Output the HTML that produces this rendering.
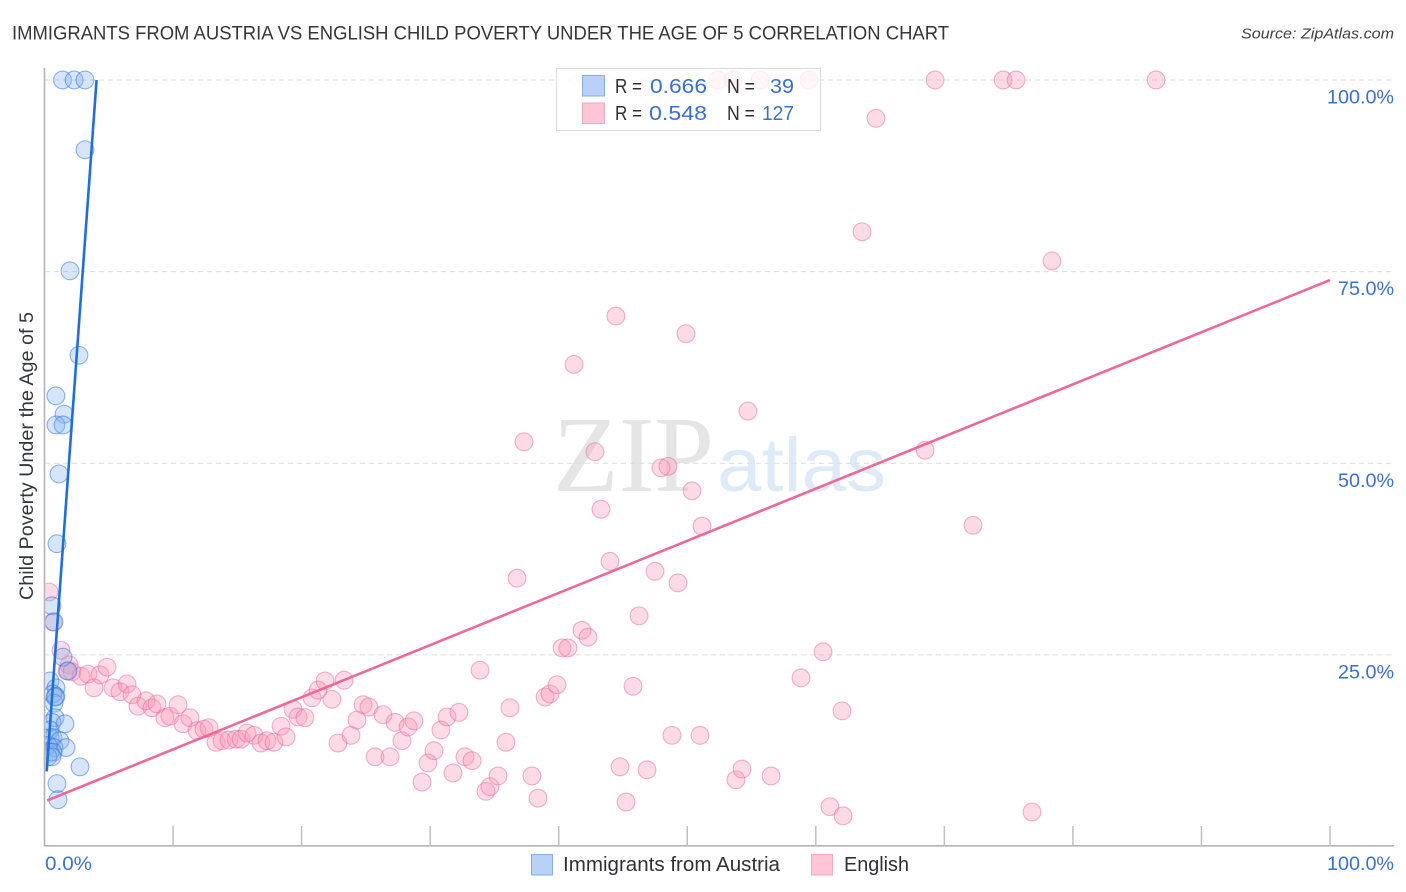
<!DOCTYPE html>
<html lang="en">
<head>
<meta charset="utf-8">
<title>Immigrants from Austria vs English Child Poverty Correlation Chart</title>
<style>
html,body{margin:0;padding:0;background:#fff;width:1406px;height:892px;overflow:hidden}
svg{display:block}
text{font-family:"Liberation Sans",sans-serif}
</style>
</head>
<body>
<svg id="chart" xmlns="http://www.w3.org/2000/svg" width="1406" height="892" viewBox="0 0 1406 892">
  <defs>
    <clipPath id="plot-clip"><rect x="45.5" y="60" width="1355" height="786"/></clipPath>
  </defs>
  <rect x="0" y="0" width="1406" height="892" fill="#fff"/>
  <text x="12" y="39.5" font-size="19.5" fill="#33373d" textLength="937" lengthAdjust="spacingAndGlyphs">IMMIGRANTS FROM AUSTRIA VS ENGLISH CHILD POVERTY UNDER THE AGE OF 5 CORRELATION CHART</text>
  <text x="1394" y="38.5" font-size="15" font-style="italic" fill="#3d4248" text-anchor="end" textLength="153" lengthAdjust="spacingAndGlyphs">Source: ZipAtlas.com</text>

  <g>
    <text x="553" y="491" font-size="108" fill="#e5e5e5" textLength="161" lengthAdjust="spacingAndGlyphs" style='font-family:"Liberation Serif",serif'>ZIP</text>
    <text x="717" y="491" font-size="76" fill="#dfeaf8" textLength="169" lengthAdjust="spacingAndGlyphs">atlas</text>
  </g>

  <g id="grid"></g>
  <g id="axes"></g>
  <g clip-path="url(#plot-clip)">
    <g id="points-english"></g>
    <g id="points-austria"></g>
  </g>
  <g id="trends"></g>
  <g id="tick-labels"></g>

  <text transform="translate(33,456) rotate(-90)" font-size="19.5" fill="#33373d" text-anchor="middle" textLength="288" lengthAdjust="spacingAndGlyphs">Child Poverty Under the Age of 5</text>

  <g>
    <rect x="556.5" y="68.5" width="264" height="62" fill="#fff" fill-opacity="0.78" stroke="#dcdcdc" stroke-width="1.2"/>
    <rect x="582.5" y="75.5" width="22" height="20.5" fill="#b8d2f7" stroke="#86aee6" stroke-width="1"/>
    <rect x="582.5" y="103" width="22" height="20.5" fill="#fdc5d6" stroke="#f2a9c1" stroke-width="1"/>
    <text x="615" y="93" font-size="20" fill="#2e3238" textLength="27" lengthAdjust="spacingAndGlyphs">R =</text>
    <text x="650" y="93" font-size="20.5" fill="#3a70cf" textLength="57" lengthAdjust="spacingAndGlyphs">0.666</text>
    <text x="727" y="93" font-size="20" fill="#2e3238" textLength="28" lengthAdjust="spacingAndGlyphs">N =</text>
    <text x="794" y="93" font-size="20.5" fill="#3a70cf" text-anchor="end" textLength="24" lengthAdjust="spacingAndGlyphs">39</text>
    <text x="615" y="120" font-size="20" fill="#2e3238" textLength="27" lengthAdjust="spacingAndGlyphs">R =</text>
    <text x="649" y="120" font-size="20.5" fill="#3a70cf" textLength="58" lengthAdjust="spacingAndGlyphs">0.548</text>
    <text x="727" y="120" font-size="20" fill="#2e3238" textLength="28" lengthAdjust="spacingAndGlyphs">N =</text>
    <text x="794" y="120" font-size="20.5" fill="#3a70cf" text-anchor="end" textLength="32" lengthAdjust="spacingAndGlyphs">127</text>
  </g>

  <g>
    <rect x="531.5" y="854.5" width="21" height="20.5" fill="#b8d2f7" stroke="#86aee6" stroke-width="1"/>
    <text x="563" y="871" font-size="20" fill="#2e3238" textLength="217" lengthAdjust="spacingAndGlyphs">Immigrants from Austria</text>
    <rect x="811.5" y="854.5" width="21" height="20.5" fill="#fdc5d6" stroke="#f2a9c1" stroke-width="1"/>
    <text x="844" y="871" font-size="20" fill="#2e3238" textLength="65" lengthAdjust="spacingAndGlyphs">English</text>
  </g>
</svg>
<script>
// Tick values and labels
const yTicks = [25, 50, 75, 100];
const yTickLabels = ['25.0%', '50.0%', '75.0%', '100.0%'];
const xTicks = [10, 20, 30, 40, 50, 60, 70, 80, 90, 100];

// Immigrants from Austria: x and y in percent
const austriaX = [1.4,2.3,3.15,3.15,1.98,2.68,0.89,1.52,0.89,1.44,1.13,0.97,0.58,0.74,1.44,1.83,0.43,0.89,0.66,0.89,0.74,0.82,0.82,0.58,1.59,0.43,0.43,0.66,1.2,0.27,0.74,1.67,0.43,0.66,0.27,0.58,2.76,0.97,1.05];
const austriaY = [100,100,100,90.9,75.1,64.1,58.8,56.4,55.0,55.0,48.6,39.5,31.4,29.3,24.7,22.9,21.6,20.7,19.9,19.6,18.7,19.5,16.8,16.2,16.0,15.2,14.2,14.2,13.8,13.2,12.9,12.9,12.3,12.3,11.7,11.7,10.4,8.2,6.1];

// English: x and y in percent
const englishX = [0.35,0.66,1.28,1.91,1.75,2.14,2.84,3.38,4.32,4.86,3.85,5.33,5.87,6.42,6.81,7.27,7.9,8.36,8.75,9.37,9.76,10.39,10.77,11.32,11.86,12.41,12.8,13.34,13.81,14.35,14.9,15.29,15.75,16.3,16.84,17.31,17.85,18.4,18.79,19.33,19.72,20.26,20.81,21.28,21.82,22.36,22.83,23.3,23.84,24.31,24.78,25.24,25.71,26.33,26.88,27.27,27.81,28.28,28.74,29.37,29.83,30.3,30.84,31.31,31.78,32.24,32.71,33.26,33.88,34.34,34.65,35.28,35.9,36.21,36.76,37.3,37.92,38.39,38.94,39.32,39.87,40.26,40.72,41.19,41.81,42.28,42.82,43.29,43.99,44.45,44.77,45.24,45.78,46.25,46.87,47.49,47.96,48.5,48.81,49.28,49.9,50.37,50.99,51.15,52.39,53.56,53.79,54.26,54.72,55.66,56.52,58.85,59.47,60.56,61.1,62.04,62.12,63.6,64.68,68.5,69.28,72.23,74.57,75.58,76.82,78.37,86.47];
const englishY = [33.2,29.3,25.6,23.7,22.9,22.8,22.2,22.5,22.4,23.4,20.7,20.7,20.2,21.2,19.8,18.3,19.0,18.1,18.6,16.8,17.0,18.5,16.0,16.8,15.1,15.3,15.5,13.6,13.8,13.9,14.0,14.0,14.8,14.5,13.5,13.8,13.6,15.7,14.3,17.9,16.9,16.8,19.4,20.4,21.6,19.2,13.5,21.7,14.5,16.5,18.5,18.2,11.7,17.2,11.7,16.2,13.8,15.6,16.4,8.4,10.9,12.5,15.2,16.9,9.6,17.5,11.7,11.2,23.0,7.2,7.8,9.2,13.6,18.1,35.0,52.8,9.2,6.3,19.5,19.9,21.1,25.9,25.9,62.9,28.2,27.3,51.5,44.0,37.2,69.2,10.4,5.8,20.9,30.1,10.0,35.9,49.4,49.6,14.5,34.4,66.9,46.4,14.5,41.8,100,100,8.7,10.1,56.8,100,9.2,22.0,100,25.4,5.2,17.7,4.0,80.2,95.0,51.7,100,41.9,100,100,4.5,76.4,100];

// Trend lines: endpoints in percent
const austriaTrendX = [0.17, 4.05];
const austriaTrendY = [9.8, 100];
const englishTrendX = [0.2, 100];
const englishTrendY = [6.0, 73.9];

const NS = 'http://www.w3.org/2000/svg';
const scaleX = v => 44.5 + 12.855 * v;
const scaleY = v => 846.5 - 7.665 * v;

function make(tag, attrs, parent) {
  const el = document.createElementNS(NS, tag);
  for (const k in attrs) el.setAttribute(k, attrs[k]);
  parent.appendChild(el);
  return el;
}

const grid = document.getElementById('grid');
yTicks.forEach(t => {
  const line = make('line', {x1: 45, x2: 1394, y1: scaleY(t), y2: scaleY(t), stroke: '#dcdcdc', 'stroke-width': 1, 'stroke-dasharray': '5 4'}, grid);
  
  
});

const axes = document.getElementById('axes');
const yAxis = make('line', {x1: 44.5, x2: 44.5, y1: 68, y2: 846, stroke: '#b4b4b4', 'stroke-width': 1.6}, axes);


const xAxis = make('line', {x1: 44, x2: 1394, y1: 845.8, y2: 845.8, stroke: '#b4b4b4', 'stroke-width': 1.6}, axes);


xTicks.forEach(t => {
  const tick = make('line', {x1: scaleX(t), x2: scaleX(t), y1: 826, y2: 846, stroke: '#c0c0c0', 'stroke-width': 1.5}, axes);
  
  
});

function drawPoints(xs, ys, parentId, fill, stroke, name) {
  const parent = document.getElementById(parentId);
  xs.forEach((x, i) => {
    const c = make('circle', {cx: scaleX(x), cy: scaleY(ys[i]), r: 8.9, fill: fill, stroke: stroke, 'stroke-width': 1.1}, parent);
    
    
  });
}
drawPoints(englishX, englishY, 'points-english', 'rgba(248,150,182,0.34)', 'rgba(228,100,150,0.48)', 'english-point');
drawPoints(austriaX, austriaY, 'points-austria', 'rgba(130,175,240,0.33)', 'rgba(40,110,215,0.50)', 'austria-point');

const trends = document.getElementById('trends');
const trendA = make('line', {x1: scaleX(austriaTrendX[0]), y1: scaleY(austriaTrendY[0]), x2: scaleX(austriaTrendX[1]), y2: scaleY(austriaTrendY[1]), stroke: '#1f6fdb', 'stroke-width': 2.6}, trends);


const trendE = make('line', {x1: scaleX(englishTrendX[0]), y1: scaleY(englishTrendY[0]), x2: scaleX(englishTrendX[1]), y2: scaleY(englishTrendY[1]), stroke: '#ec6a9a', 'stroke-width': 2.6}, trends);



const labels = document.getElementById('tick-labels');
yTicks.forEach((t, i) => {
  const el = make('text', {x: 1394, y: scaleY(t) + 23.5, 'font-size': 19, fill: '#3a70cf', 'text-anchor': 'end', textLength: yTickLabels[i].length === 6 ? 67 : 56, lengthAdjust: 'spacingAndGlyphs'}, labels);
  el.textContent = yTickLabels[i];
  
  
});
const xMin = make('text', {x: 45, y: 870, 'font-size': 19, fill: '#3a70cf', textLength: 47, lengthAdjust: 'spacingAndGlyphs'}, labels);
xMin.textContent = '0.0%';


const xMax = make('text', {x: 1394, y: 870, 'font-size': 19, fill: '#3a70cf', 'text-anchor': 'end', textLength: 67, lengthAdjust: 'spacingAndGlyphs'}, labels);
xMax.textContent = '100.0%';


</script>
</body>
</html>
